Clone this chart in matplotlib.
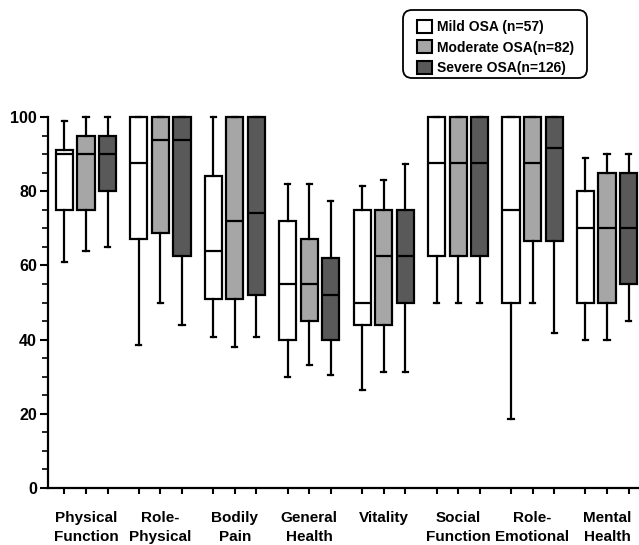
import matplotlib
matplotlib.use("Agg")
import matplotlib.pyplot as plt
from matplotlib.patches import Patch, FancyBboxPatch
from matplotlib.ticker import MultipleLocator

plt.rcParams["font.family"] = ["Liberation Sans", "DejaVu Sans"]
plt.rcParams["font.weight"] = "bold"

categories = ["Physical\nFunction", "Role-\nPhysical", "Bodily\nPain", "General\nHealth",
              "Vitality", "Social\nFunction", "Role-\nEmotional", "Mental\nHealth"]
groups = ["Mild OSA (n=57)", "Moderate OSA(n=82)", "Severe OSA(n=126)"]
colors = ["#ffffff", "#a6a6a6", "#595959"]

# per group: lists over categories
whislo = [
    [61, 38.5, 40.6, 30, 26.4, 50, 18.5, 40],
    [64, 50, 38.1, 33.2, 31.2, 50, 50, 40],
    [65, 43.9, 40.6, 30.5, 31.2, 50, 41.7, 45],
]
q1 = [
    [75, 67, 51, 40, 44, 62.5, 50, 50],
    [75, 68.6, 51, 45, 44, 62.5, 66.7, 50],
    [80, 62.5, 52, 40, 50, 62.5, 66.7, 55],
]
med = [
    [90, 87.5, 64, 55, 50, 87.5, 75, 70],
    [90, 93.75, 72, 55, 62.5, 87.5, 87.5, 70],
    [90, 93.75, 74, 52, 62.5, 87.5, 91.7, 70],
]
q3 = [
    [91, 100, 84.2, 72, 75, 100, 100, 80],
    [95, 100, 100, 67, 75, 100, 100, 85],
    [95, 100, 100, 62, 75, 100, 100, 85],
]
whishi = [
    [99, 100, 100, 82, 81.4, 100, 100, 89],
    [100, 100, 100, 82, 83, 100, 100, 90],
    [100, 100, 100, 77.4, 87.3, 100, 100, 90],
]

fig = plt.figure(figsize=(6.39, 5.45), dpi=100)
ax = fig.add_axes([48 / 639, 57 / 545, (639 - 48) / 639, (488 - 117) / 545])

offset = 0.29
width = 0.23
for g in range(3):
    stats = []
    positions = []
    for i in range(len(categories)):
        stats.append({"med": med[g][i], "q1": q1[g][i], "q3": q3[g][i],
                      "whislo": whislo[g][i], "whishi": whishi[g][i]})
        positions.append(i + (g - 1) * offset)
    parts = ax.bxp(stats, positions=positions, widths=width, capwidths=0.07,
                   showfliers=False, patch_artist=True, manage_ticks=False,
                   boxprops=dict(facecolor=colors[g], edgecolor="black", linewidth=1.6),
                   medianprops=dict(color="black", linewidth=1.6),
                   whiskerprops=dict(color="black", linewidth=1.6),
                   capprops=dict(color="black", linewidth=1.6))
    for key in parts:
        for artist in parts[key]:
            artist.set_clip_on(False)

ax.set_ylim(0, 100)
ax.set_xlim(-0.51, 7.43)
ax.spines["top"].set_visible(False)
ax.spines["right"].set_visible(False)
ax.spines["left"].set_linewidth(1.6)
ax.spines["bottom"].set_linewidth(1.6)
ax.yaxis.set_major_locator(MultipleLocator(20))
ax.yaxis.set_minor_locator(MultipleLocator(5))
ax.tick_params(axis="y", which="major", length=6, width=1.5, labelsize=11.5, pad=2)
ax.tick_params(axis="y", which="minor", length=4, width=1.2)

xt = [i + (g - 1) * offset for i in range(len(categories)) for g in range(3)]
ax.set_xticks(xt)
ax.set_xticklabels([])
ax.tick_params(axis="x", which="major", length=4, width=1.5)
for i, c in enumerate(categories):
    ax.text(i, -6.3, c, ha="center", va="top", fontsize=11, linespacing=1.38)

# legend: entries via fig.legend, rounded frame drawn in pixels
handles = [Patch(facecolor=c, edgecolor="black", linewidth=1.5) for c in colors]
fig.legend(handles, groups, loc="upper left", bbox_to_anchor=(417 / 639, 1 - 20 / 545),
           fontsize=10, handlelength=1.05, handleheight=1.05, handletextpad=0.4,
           labelspacing=0.45, borderpad=0, borderaxespad=0, frameon=False)
frame = FancyBboxPatch((403, 545 - 78), 184, 68, boxstyle="round,pad=0,rounding_size=9",
                       transform=None, facecolor="white", edgecolor="black",
                       linewidth=1.3, zorder=0)
fig.patches.append(frame)

fig.savefig("out.png", dpi=100)
